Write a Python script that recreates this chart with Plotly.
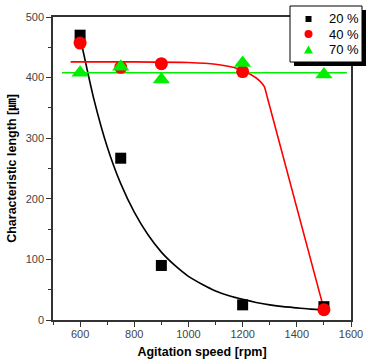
import plotly.graph_objects as go

# Measured points
speed = [600, 750, 900, 1200, 1500]
len_20 = [470, 267, 90, 25, 22]
len_40 = [457, 417, 423, 410, 17]
len_70 = [408, 418, 397, 424, 405]
series_names = ["20 %", "40 %", "70 %"]

# Fitted curves
fit20_x = [600, 650, 700, 750, 800, 850, 900, 950, 1000, 1050, 1100, 1150, 1200,
           1250, 1300, 1350, 1400, 1450, 1500]
fit20_y = [467, 366, 286, 225, 178, 141, 112, 90, 72, 59, 48, 40, 34,
           29, 25, 22, 20, 18, 17]
fit40_x = [565, 800, 1000, 1100, 1180, 1230, 1262, 1280, 1292, 1500]
fit40_y = [426, 426, 425, 422, 415, 405, 395, 385, 366, 18]
fit70_x = [533, 1585]
fit70_y = [408, 408]

FONT = "Arial, Liberation Sans, Noto Sans CJK JP, sans-serif"
GREEN = "#00ee00"
RED = "#ff0000"

# plot area in pixels
L, R, T, B = 53, 351, 17, 320


def px(x):
    return (x - L) / (R - L)


def py(y):
    return (B - y) / (B - T)


fig = go.Figure()
fig.add_trace(go.Scatter(x=fit20_x, y=fit20_y, mode="lines", line=dict(color="black", width=1.6, shape="spline", smoothing=0.6), showlegend=False, hoverinfo="skip"))
fig.add_trace(go.Scatter(x=fit40_x, y=fit40_y, mode="lines", line=dict(color=RED, width=1.6, shape="spline", smoothing=0.5), showlegend=False, hoverinfo="skip"))
fig.add_trace(go.Scatter(x=fit70_x, y=fit70_y, mode="lines", line=dict(color=GREEN, width=1.6), showlegend=False, hoverinfo="skip"))

fig.add_trace(go.Scatter(x=speed, y=len_20, mode="markers", name=series_names[0], showlegend=False,
                         marker=dict(symbol="square", size=11, color="black"), cliponaxis=False))
fig.add_trace(go.Scatter(x=speed, y=len_40, mode="markers", name=series_names[1], showlegend=False,
                         marker=dict(symbol="circle", size=13, color=RED), cliponaxis=False))
fig.add_trace(go.Scatter(x=speed, y=len_70, mode="markers", name=series_names[2], showlegend=False,
                         marker=dict(symbol="triangle-up", size=15, color=GREEN), cliponaxis=False))

# ---- hand-built legend box (with drop shadow) ----
shapes = []
shapes.append(dict(type="rect", xref="paper", yref="paper", x0=px(294), x1=px(366), y0=py(66), y1=py(10),
                   fillcolor="black", line=dict(width=0), layer="above"))
shapes.append(dict(type="rect", xref="paper", yref="paper", x0=px(290), x1=px(362), y0=py(62), y1=py(6),
                   fillcolor="white", line=dict(color="black", width=1), layer="above"))
# square
shapes.append(dict(type="rect", xref="paper", yref="paper", x0=px(305.5), x1=px(311.5), y0=py(22), y1=py(16),
                   fillcolor="black", line=dict(width=0), layer="above"))
# circle
shapes.append(dict(type="circle", xref="paper", yref="paper", x0=px(304.5), x1=px(312.5), y0=py(38), y1=py(30),
                   fillcolor=RED, line=dict(width=0), layer="above"))
# triangle
tri = "M {:.5f} {:.5f} L {:.5f} {:.5f} L {:.5f} {:.5f} Z".format(px(304), py(53.5), px(313), py(53.5), px(308.5), py(45.5))
shapes.append(dict(type="path", xref="paper", yref="paper", path=tri,
                   fillcolor=GREEN, line=dict(width=0), layer="above"))

annotations = []
for name, yc in zip(series_names, [19, 34, 50]):
    annotations.append(dict(text=name, xref="paper", yref="paper", x=px(327), y=py(yc),
                            xanchor="left", yanchor="middle", showarrow=False,
                            font=dict(family=FONT, size=13, color="black")))

fig.update_layout(
    width=368, height=364,
    margin=dict(l=L, r=368 - R, t=T, b=364 - B, autoexpand=False),
    paper_bgcolor="white", plot_bgcolor="white",
    font=dict(family=FONT, size=11, color="#444"),
    showlegend=False,
    shapes=shapes, annotations=annotations,
)
fig.update_xaxes(range=[500, 1600], tickvals=[600, 800, 1000, 1200, 1400, 1600],
                 ticks="outside", ticklen=5, tickcolor="#333", tickwidth=1, ticklabelstandoff=-2,
                 minor=dict(tickvals=[500, 700, 900, 1100, 1300, 1500], ticks="outside", ticklen=3, tickcolor="#333"),
                 showline=True, linecolor="#333", linewidth=1.5, mirror=True,
                 showgrid=False, zeroline=False, automargin=False,
                 title=dict(text="<b>Agitation speed [rpm]</b>", font=dict(size=12.5, color="black", family=FONT), standoff=8))
fig.update_yaxes(range=[0, 500], tickvals=[0, 100, 200, 300, 400, 500],
                 ticks="outside", ticklen=5, tickcolor="#333", tickwidth=1,
                 minor=dict(tickvals=[50, 150, 250, 350, 450], ticks="outside", ticklen=3, tickcolor="#333"),
                 showline=True, linecolor="#333", linewidth=1.5, mirror=True,
                 showgrid=False, zeroline=False, automargin=False,
                 title=dict(text="<b>Characteristic length [㎛]</b>", font=dict(size=12.5, color="black", family=FONT), standoff=6))

fig.write_html("out.html")
